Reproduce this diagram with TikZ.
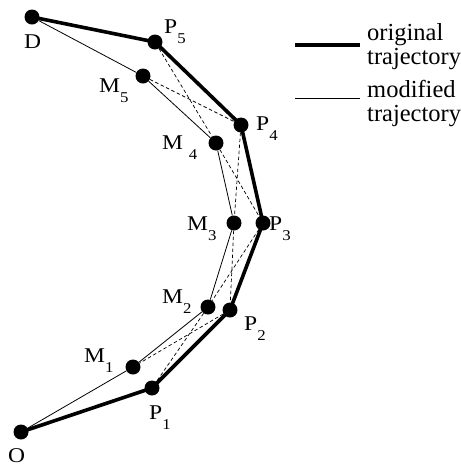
\documentclass[tikz,border=0pt]{standalone}
\usepackage{fontspec}
\setmainfont{Liberation Serif}
\newfontfamily\lblfont[FakeStretch=1.12]{Liberation Serif}
\newcommand{\lowidx}[1]{\raisebox{-10pt}{\fontsize{15}{15}\selectfont #1}}
\tikzset{
    dot/.style={circle,fill=black,inner sep=0pt,minimum size=15pt},
    orig/.style={line width=3.6pt,line join=round},
    modi/.style={line width=0.8pt},
    cross/.style={line width=0.7pt,dash pattern=on 3.5pt off 2.5pt},
    lbl/.style={inner sep=0pt,anchor=base west,font=\lblfont\fontsize{21}{22}\selectfont},
    leg/.style={inner sep=0pt,anchor=base west,font=\fontsize{24.5}{24}\selectfont}
}
\begin{document}
\begin{tikzpicture}[x=1pt,y=-1pt]
    \useasboundingbox (0,0) rectangle (461,467);

    % way points
    \node[dot] (D) at (32,17) {};
    \node[dot] (P5) at (155,42) {};
    \node[dot] (M5) at (143,76) {};
    \node[dot] (P4) at (241,125) {};
    \node[dot] (M4) at (216,143) {};
    \node[dot] (M3) at (234,223) {};
    \node[dot] (P3) at (263,223) {};
    \node[dot] (M2) at (208,307) {};
    \node[dot] (P2) at (230,310) {};
    \node[dot] (M1) at (133,367) {};
    \node[dot] (P1) at (152,388) {};
    \node[dot] (O) at (21,432) {};

    % labels (base line, left edge)
    \node[lbl] (lD) at (24,48.5) {D};
    \node[lbl] (lP5) at (164,33) {P\lowidx{5}};
    \node[lbl] (lM5) at (99,92.5) {M\lowidx{5}};
    \node[lbl] (lP4) at (256,130) {P\lowidx{4}};
    \node[lbl] (lM4) at (162,149) {M \lowidx{4}};
    \node[lbl] (lM3) at (187,230) {M\lowidx{3}};
    \node[lbl] (lP3) at (269,230) {P\lowidx{3}};
    \node[lbl] (lM2) at (162,303) {M\lowidx{2}};
    \node[lbl] (lP2) at (244,330) {P\lowidx{2}};
    \node[lbl] (lM1) at (84,362) {M\lowidx{1}};
    \node[lbl] (lP1) at (149,419) {P\lowidx{1}};
    \node[lbl] (lO) at (8,462) {O};

    % cross links
    \draw[cross] (P5) -- (M4) (M5) -- (P4);
    \draw[cross] (P4) -- (M3) (M4) -- (P3);
    \draw[cross] (P3) -- (M2) (M3) -- (P2);
    \draw[cross] (P2) -- (M1) (M2) -- (P1);

    % trajectories
    \draw[modi] (D) -- (M5) -- (M4) -- (M3) -- (M2) -- (M1) -- (O);
    \draw[orig] (D.center) -- (P5.center) -- (P4.center) -- (P3.center)
        -- (P2.center) -- (P1.center) -- (O.center);

    % legend
    \coordinate (a1) at (295,45);
    \coordinate (a2) at (360,45);
    \coordinate (b1) at (295,98);
    \coordinate (b2) at (360,98);
    \draw[orig] (a1) -- (a2);
    \draw[modi] (b1) -- (b2);
    \node[leg] (torig1) at (367,40) {original};
    \node[leg] (torig2) at (367,64) {trajectory};
    \node[leg] (tmodi1) at (367,97) {modified};
    \node[leg] (tmodi2) at (367,121) {trajectory};
\end{tikzpicture}
\end{document}
